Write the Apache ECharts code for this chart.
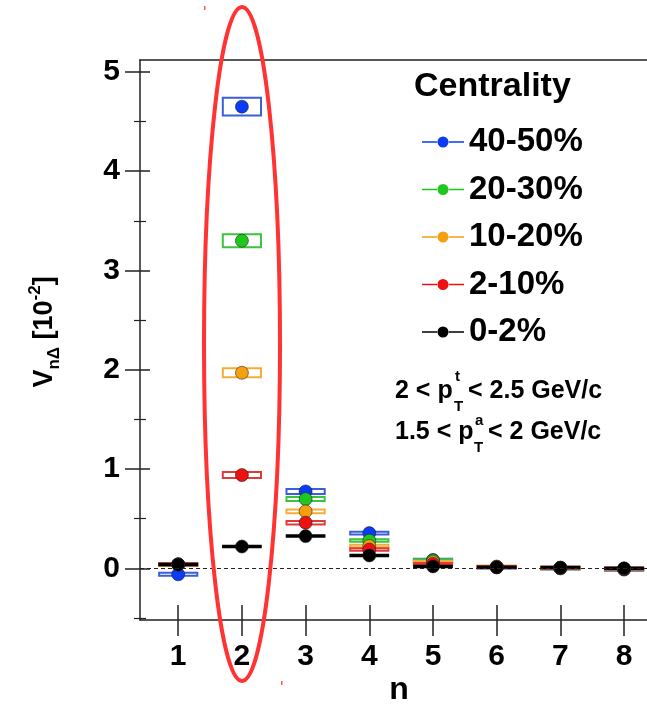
<!DOCTYPE html>
<html><head><meta charset="utf-8">
<script src="https://cdn.jsdelivr.net/npm/echarts@6/dist/echarts.min.js"></script>
<style>html,body{margin:0;padding:0;background:#fff}#c{width:647px;height:709px}</style>
</head><body><div id="c"></div>
<script>
const nValues = [1, 2, 3, 4, 5, 6, 7, 8];
const xTickLabels = ['1','2','3','4','5','6','7','8'];
const yTickValues = [0, 1, 2, 3, 4, 5];
const yMinorValues = [-0.5, 0.5, 1.5, 2.5, 3.5, 4.5];
const seriesNames = ['40-50%', '20-30%', '10-20%', '2-10%', '0-2%'];
const v4050 = [-0.06, 4.65, 0.775, 0.355, 0.085, 0.010, 0.000, -0.012];
const v2030 = [0.040, 3.30, 0.698, 0.280, 0.080, 0.015, 0.002, -0.008];
const v1020 = [0.040, 1.97, 0.574, 0.225, 0.063, 0.018, 0.005, -0.005];
const v0210 = [0.040, 0.94, 0.460, 0.190, 0.045, 0.012, 0.005, -0.003];
const v0002 = [0.040, 0.22, 0.325, 0.130, 0.020, 0.012, 0.008, 0.000];
const sys4050 = [0.015, 0.090, 0.025, 0.015, 0.012, 0.010, 0.012, 0.012];
const sys2030 = [0.012, 0.065, 0.020, 0.013, 0.012, 0.010, 0.010, 0.010];
const sys1020 = [0.012, 0.045, 0.020, 0.013, 0.010, 0.010, 0.010, 0.010];
const sys0210 = [0.012, 0.030, 0.017, 0.012, 0.010, 0.010, 0.010, 0.010];
const sys0002 = [0.010, 0.010, 0.010, 0.010, 0.010, 0.010, 0.010, 0.010];

const values = [v4050, v2030, v1020, v0210, v0002];
const syss = [sys4050, sys2030, sys1020, sys0210, sys0002];
const colors = ['#0a3cf5', '#1ec81e', '#f5a00f', '#ee1111', '#000000'];
const boxStroke = ['#3a5fd8', '#3cc43c', '#f2ac3a', '#e03a3a', '#000000'];
const boxFill = ['rgba(255,255,255,0.85)', 'rgba(255,255,255,0.85)', 'rgba(255,255,255,0.85)', 'rgba(255,255,255,0.85)', '#000000'];
const FONT = '"Liberation Sans", Arial, Helvetica, sans-serif';
const HALFW = 0.3;

const chart = echarts.init(document.getElementById('c'), null, {renderer: 'canvas'});
const series = [];
seriesNames.forEach((name, i) => {
  const data = nValues.map((n, k) => [n, values[i][k], syss[i][k]]);
  const box = {
    type: 'custom', name: name + ' sys', xAxisIndex: 0, yAxisIndex: 0,
    data: data,
    renderItem: function (params, api) {
      const n = api.value(0), v = api.value(1), s = api.value(2);
      const p0 = api.coord([n - HALFW, v + s]);
      const p1 = api.coord([n + HALFW, v - s]);
      let h = p1[1] - p0[1];
      let y = p0[1];
      if (h < 2) { y -= (2 - h) / 2; h = 2; }
      return {type: 'rect', shape: {x: p0[0], y: y, width: p1[0] - p0[0], height: h},
        style: {fill: boxFill[i], stroke: boxStroke[i], lineWidth: i === 4 ? 1.5 : 2}};
    },
    silent: true
  };
  if (i === 0) {
    box.markLine = {silent: true, symbol: ['none', 'none'], label: {show: false},
      lineStyle: {type: [4, 3], color: '#222', width: 1}, data: [{yAxis: 0}], animation: false};
  }
  series.push(box);
  series.push({
    type: 'scatter', name: name, xAxisIndex: 0, yAxisIndex: 0,
    data: data.map(d => [d[0], d[1]]),
    symbol: 'circle', symbolSize: 13,
    itemStyle: {color: colors[i], borderColor: 'rgba(30,30,30,0.55)', borderWidth: 1, opacity: 1},
    silent: true
  });
});

const axisLineStyle = {color: '#222', width: 1.5};
const txt = (t, x, y, size, extra) => Object.assign({type: 'text', x: x, y: y,
  style: Object.assign({text: t, fontSize: size, fontWeight: 'bold', fontFamily: FONT, fill: '#000', verticalAlign: 'middle'}, extra || {})});
const option = {
  animation: false,
  backgroundColor: '#fff',
  grid: {left: 140, right: 0, top: 60, bottom: 89, containLabel: false},
  xAxis: [
    {type: 'value', min: 0.4, max: 8.36, position: 'bottom',
      axisLine: {show: true, lineStyle: axisLineStyle, onZero: false},
      axisTick: {show: true, inside: false, length: 16, lineStyle: {color: '#222', width: 1.5}, customValues: nValues},
      axisLabel: {show: true, customValues: nValues, formatter: v => xTickLabels[nValues.indexOf(Math.round(v))] || '',
        fontSize: 30, fontWeight: 'bold', fontFamily: FONT, color: '#000', margin: 22},
      splitLine: {show: false}},
    {type: 'value', min: 0.4, max: 8.36, position: 'bottom',
      axisLine: {show: false, onZero: false},
      axisTick: {show: true, inside: true, length: 15, lineStyle: {color: '#222', width: 1.5}, customValues: nValues},
      axisLabel: {show: false}, splitLine: {show: false}},
    {type: 'value', min: 0.4, max: 8.36, position: 'top',
      axisLine: {show: true, lineStyle: axisLineStyle, onZero: false},
      axisTick: {show: false}, axisLabel: {show: false}, splitLine: {show: false}}
  ],
  yAxis: [
    {type: 'value', min: -0.52, max: 5.12, position: 'left',
      axisLine: {show: true, lineStyle: axisLineStyle, onZero: false},
      axisTick: {show: true, inside: false, length: 15, lineStyle: {color: '#222', width: 1.5}, customValues: yTickValues},
      axisLabel: {show: true, customValues: yTickValues, formatter: v => String(Math.round(v)),
        fontSize: 30, fontWeight: 'bold', fontFamily: FONT, color: '#000', margin: 20},
      splitLine: {show: false}},
    {type: 'value', min: -0.52, max: 5.12, position: 'left',
      axisLine: {show: false, onZero: false},
      axisTick: {show: true, inside: true, length: 10, lineStyle: {color: '#222', width: 1.5}, customValues: yTickValues},
      axisLabel: {show: false}, splitLine: {show: false}},
    {type: 'value', min: -0.52, max: 5.12, position: 'left',
      axisLine: {show: false, onZero: false},
      axisTick: {show: true, inside: false, length: 6, lineStyle: {color: '#222', width: 1.2}, customValues: yMinorValues},
      axisLabel: {show: false}, splitLine: {show: false}},
    {type: 'value', min: -0.52, max: 5.12, position: 'left',
      axisLine: {show: false, onZero: false},
      axisTick: {show: true, inside: true, length: 6, lineStyle: {color: '#222', width: 1.2}, customValues: yMinorValues},
      axisLabel: {show: false}, splitLine: {show: false}}
  ],
  legend: {
    show: true, orient: 'vertical', left: 417, top: 119,
    data: seriesNames,
    icon: 'path://M0,5.2 L16,5.2 L16,6.8 L0,6.8 Z M26,5.2 L42,5.2 L42,6.8 L26,6.8 Z M15.5,6 a5.5,5.5 0 1,0 11,0 a5.5,5.5 0 1,0 -11,0 Z',
    itemWidth: 42, itemHeight: 12, itemGap: 11.5,
    itemStyle: {borderWidth: 0},
    textStyle: {fontSize: 33, fontWeight: 'bold', fontFamily: FONT, color: '#000', lineHeight: 36, padding: [0, 0, 0, 0]},
    selectedMode: false
  },
  series: series,
  graphic: [
    {type: 'text', left: 414, top: 70, style: {text: 'Centrality', fontSize: 34, fontWeight: 'bold', fontFamily: FONT, fill: '#000'}},
    txt('2 < p', 395, 391, 25),
    txt('t', 455, 377, 15),
    txt('T', 454, 407, 15),
    txt('< 2.5 GeV/c', 468, 391, 25),
    txt('1.5 < p', 395, 432, 25),
    txt('a', 475, 421, 15),
    txt('T', 474, 448, 15),
    txt('< 2 GeV/c', 488, 432, 25),
    txt('n', 399, 690, 32, {align: 'center'}),
    {type: 'text', x: 45, y: 332, rotation: Math.PI / 2,
      style: {text: '{a|V}{s|nΔ}{a| [10}{p|-2}{a|]}', align: 'center', verticalAlign: 'middle', fill: '#000',
        rich: {
          a: {fontSize: 27, fontWeight: 'bold', fontFamily: FONT, lineHeight: 36},
          s: {fontSize: 17, fontWeight: 'bold', fontFamily: FONT, lineHeight: 17, verticalAlign: 'bottom'},
          p: {fontSize: 17, fontWeight: 'bold', fontFamily: FONT, lineHeight: 17, verticalAlign: 'top'}
        }}},
    {type: 'ellipse', shape: {cx: 242, cy: 344, rx: 38, ry: 337}, style: {fill: 'none', stroke: '#ff3333', lineWidth: 4}, z: 100},
    {type: 'rect', shape: {x: 204, y: 6, width: 1.5, height: 4}, style: {fill: '#ff5555'}, z: 100},
    {type: 'rect', shape: {x: 281, y: 681, width: 1.5, height: 4}, style: {fill: '#ff5555'}, z: 100}
  ]
};
chart.setOption(option);
</script></body></html>
